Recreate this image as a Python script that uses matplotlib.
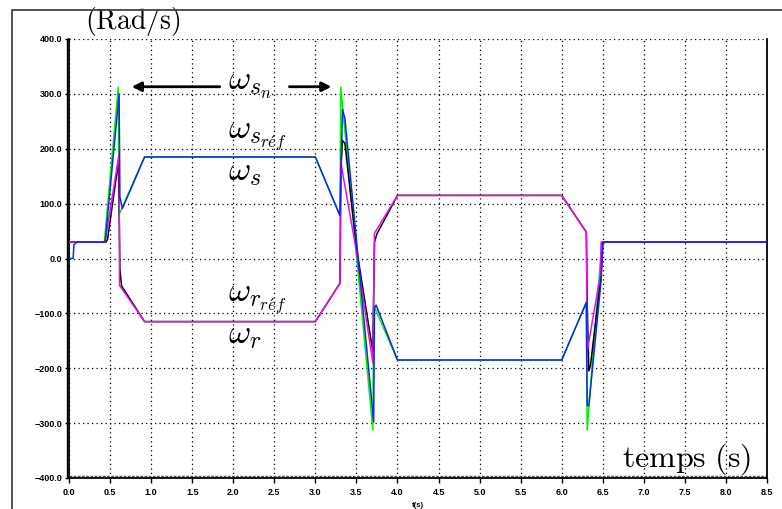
import matplotlib
matplotlib.use("Agg")
import matplotlib.pyplot as plt
from matplotlib.lines import Line2D
from matplotlib.ticker import FixedLocator, FixedFormatter

plt.rcParams['mathtext.fontset'] = 'cm'

# ---------------- data ----------------
t_ws_ref = [0, 0.43, 0.60, 0.61, 0.92, 3.0, 3.30, 3.31, 3.70, 3.71, 4.0, 6.0, 6.30, 6.31, 6.49, 8.5]
ws_ref   = [30, 30, 312, 80, 185, 185, 78, 312, -312, -85, -185, -185, -80, -312, 30, 30]

t_ws = [0, 0.05, 0.06, 0.08, 0.10, 0.44, 0.61, 0.62, 0.65, 0.92, 3.0, 3.30, 3.33, 3.36, 3.71, 3.72, 3.74, 4.0, 6.0, 6.30, 6.31, 6.33, 6.48, 6.50, 6.52, 8.5]
ws   = [0, 0, 25, 28, 30, 30, 300, 112, 91, 185, 185, 78, 272, 255, -298, -90, -85, -185, -185, -80, -268, -268, -40, 25, 30, 30]

t_wr_ref = [0, 0.44, 0.61, 0.615, 0.92, 3.0, 3.30, 3.31, 3.48, 3.70, 3.72, 4.0, 6.0, 6.30, 6.31, 6.47, 6.48, 8.5]
wr_ref   = [30, 30, 191, -49, -115, -115, -45, 175, 30, -190, 46, 115, 115, 48, -170, -30, 30, 30]

t_wr = [0, 0.45, 0.47, 0.60, 0.61, 0.62, 0.64, 0.92, 3.0, 3.30, 3.31, 3.33, 3.36, 3.50, 3.70, 3.72, 3.75, 4.0, 6.0, 6.30, 6.31, 6.33, 6.35, 6.48, 6.50, 8.5]
wr   = [30, 30, 35, 175, 100, -20, -50, -115, -115, -45, 160, 215, 210, 20, -170, 30, 45, 115, 115, 48, -80, -205, -195, -30, 30, 30]

xticks = [0.0, 0.5, 1.0, 1.5, 2.0, 2.5, 3.0, 3.5, 4.0, 4.5, 5.0, 5.5, 6.0, 6.5, 7.0, 7.5, 8.0, 8.5]
xtick_labels = ['0.0', '0.5', '1.0', '1.5', '2.0', '2.5', '3.0', '3.5', '4.0', '4.5', '5.0', '5.5', '6.0', '6.5', '7.0', '7.5', '8.0', '8.5']
yticks = [-400, -300, -200, -100, 0, 100, 200, 300, 400]
ytick_labels = ['\u2212400.0', '\u2212300.0', '\u2212200.0', '\u2212100.0', '0.0', '100.0', '200.0', '300.0', '400.0']

# ---------------- figure ----------------
W, H = 782, 509
fig = plt.figure(figsize=(W / 100, H / 100), dpi=100)
ax = fig.add_axes([69 / W, 1 - 478 / H, (767 - 69) / W, (478 - 39) / H])
ax.set_xlim(0, 8.5)
ax.set_ylim(-400, 400)

lw = 1.1
ax.plot(t_ws_ref, ws_ref, color='#00f000', lw=lw, zorder=3)
ax.plot(t_wr, wr, color='black', lw=lw, zorder=4)
ax.plot(t_wr_ref, wr_ref, color='#e810e8', lw=lw, zorder=5)
ax.plot(t_ws, ws, color='#0a28f0', lw=lw, zorder=6)

# grid
ax.xaxis.set_major_locator(FixedLocator(xticks))
ax.xaxis.set_major_formatter(FixedFormatter(xtick_labels))
ax.yaxis.set_major_locator(FixedLocator(yticks))
ax.yaxis.set_major_formatter(FixedFormatter(ytick_labels))
ax.grid(True, color='black', lw=0.9, linestyle=(0, (1, 2.6)), zorder=1)

for lab in ax.get_xticklabels() + ax.get_yticklabels():
    lab.set_fontfamily('Liberation Sans')
    lab.set_fontweight('bold')
    lab.set_fontsize(6.5)
ax.tick_params(axis='x', direction='out', length=3.5, width=1, pad=4)
ax.tick_params(axis='y', direction='out', length=3, width=1, pad=2)

ax.spines['top'].set_visible(False)
for s in ['left', 'bottom', 'right']:
    ax.spines[s].set_linewidth(1.3)
# double lines on left and bottom
ax.add_line(Line2D([-0.003, -0.003], [0, 1], transform=ax.transAxes, color='black', lw=1.0, clip_on=False))
ax.add_line(Line2D([0, 1], [0.005, 0.005], transform=ax.transAxes, color='#555555', lw=1.0,
                   linestyle=(0, (2, 1)), clip_on=False))

ax.set_xlabel('t(s)', fontsize=5.5, fontweight='bold', fontfamily='Liberation Sans', labelpad=3)

# annotations
ax.text(0.78, 432, r'$\mathrm{(Rad/s)}$', fontsize=20, ha='center', va='center', clip_on=False)
fs = 24.5
ax.text(1.94, 317, r'$\omega_{s_n}$', fontsize=fs, ha='left', va='center')
ax.text(1.94, 222, r'$\omega_{s_{r\acute{e}f}}$', fontsize=fs, ha='left', va='center')
ax.text(1.94, 158, r'$\omega_s$', fontsize=fs, ha='left', va='center')
ax.text(1.94, -75, r'$\omega_{r_{r\acute{e}f}}$', fontsize=fs, ha='left', va='center')
ax.text(1.94, -138, r'$\omega_r$', fontsize=fs, ha='left', va='center')
ax.text(7.52, -365, r'$\mathrm{temps\ (s)}$', fontsize=23, ha='center', va='center')

ax.annotate('', xy=(0.73, 313), xytext=(1.87, 313),
            arrowprops=dict(arrowstyle='-|>', color='black', lw=2, mutation_scale=14))
ax.annotate('', xy=(3.23, 313), xytext=(2.65, 313),
            arrowprops=dict(arrowstyle='-|>', color='black', lw=2, mutation_scale=14))

# outer frame
fig.add_artist(Line2D([12 / W, 12 / W, 1.0], [0, 1 - 10 / H, 1 - 10 / H],
                      transform=fig.transFigure, color='#444444', lw=1.3))

fig.savefig('out.png', dpi=100)
